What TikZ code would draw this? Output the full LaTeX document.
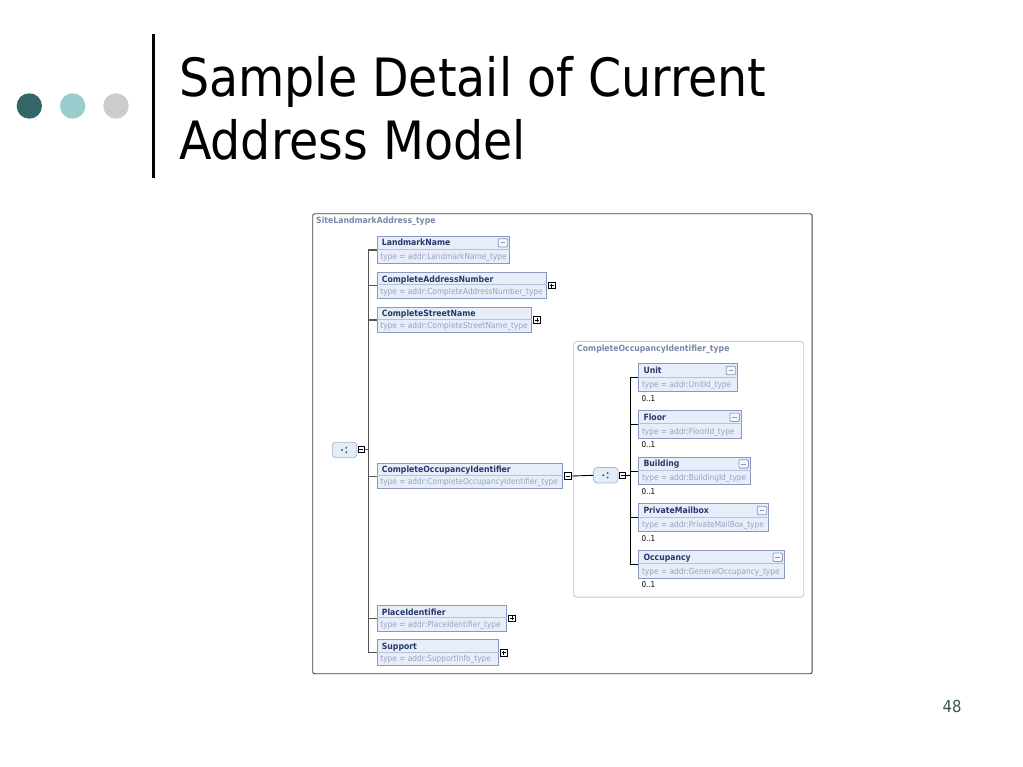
\documentclass[tikz,border=0pt]{standalone}
\usepackage{fontspec}
\setmainfont{DejaVu Sans Condensed}
\definecolor{dotA}{HTML}{336666}
\definecolor{dotB}{HTML}{99CCCC}
\definecolor{dotC}{HTML}{CCCCCC}
\definecolor{boxfill}{HTML}{E8EEF9}
\definecolor{boxline}{HTML}{8A97BE}
\definecolor{nametext}{HTML}{283868}
\definecolor{typetext}{HTML}{98A2C0}
\definecolor{frametitle}{HTML}{7C88A8}
\definecolor{outerline}{HTML}{404040}
\definecolor{innerline}{HTML}{C8C8C8}
\definecolor{seqfill}{HTML}{E3EDF8}
\definecolor{seqline}{HTML}{A9B9D2}
\definecolor{seqdot}{HTML}{4A5A80}
\definecolor{treegray}{HTML}{555555}
\definecolor{pagenum}{HTML}{3C5454}
\tikzset{
  elembox/.style={draw=boxline, line width=1.1pt, fill=boxfill, inner sep=0pt, rectangle},
  nametxt/.style={font=\fontsize{8.6}{10}\selectfont\bfseries, text=nametext, inner sep=0pt},
  typetxt/.style={font=\fontsize{8.25}{10}\selectfont, text=typetext, inner sep=0pt},
  occtxt/.style={font=\fontsize{8}{10}\selectfont, text=black, inner sep=0pt},
  ftitle/.style={font=\fontsize{8.6}{10}\selectfont\bfseries, text=frametitle, inner sep=0pt},
  hdricon/.style={draw=boxline, fill=white!55!boxfill, rounded corners=1pt, minimum width=9.5pt,
    minimum height=8.4pt, inner sep=0pt, line width=0.8pt,
    path picture={\draw[boxline, line width=0.8pt] ([xshift=2.5pt]path picture bounding box.west) -- ([xshift=-2.5pt]path picture bounding box.east);}},
  pmbox/.style={draw=black, fill=white, minimum size=6.6pt, inner sep=0pt, line width=0.7pt},
  pmminus/.style={pmbox, path picture={\draw[line width=0.7pt] ([xshift=1.3pt]path picture bounding box.west) -- ([xshift=-1.3pt]path picture bounding box.east);}},
  pmplus/.style={pmbox, path picture={\draw[line width=0.7pt] ([xshift=1.3pt]path picture bounding box.west) -- ([xshift=-1.3pt]path picture bounding box.east);
     \draw[line width=0.7pt] ([yshift=-1.3pt]path picture bounding box.north) -- ([yshift=1.3pt]path picture bounding box.south);}},
  seqnode/.style={draw=seqline, fill=seqfill, rounded corners=3.5pt, minimum width=24.5pt,
    minimum height=15.5pt, inner sep=0pt, line width=0.8pt,
    path picture={\fill[seqdot] ([xshift=-2.6pt]path picture bounding box.center) circle (1.1pt);
      \fill[seqdot] ([xshift=1.8pt,yshift=2.2pt]path picture bounding box.center) circle (1.1pt);
      \fill[seqdot] ([xshift=1.8pt,yshift=-2.2pt]path picture bounding box.center) circle (1.1pt);}},
  treeline/.style={draw=treegray, line width=1.1pt},
  innertree/.style={draw=black, line width=0.9pt},
  dot/.style={circle, inner sep=0pt, minimum size=25.4pt},
}
% #1 id, #2 x, #3 y, #4 w, #5 h, #6 name, #7 type
\newcommand{\xelem}[7]{%
  \node[elembox, minimum width=#4pt, minimum height=#5pt, anchor=north west] (#1) at (#2,#3) {};
  \draw[boxline!60, line width=0.6pt] ([yshift=-#5pt*0.49]#1.north west) -- ([yshift=-#5pt*0.49]#1.north east);
  \node[nametxt, anchor=base west] (#1-n) at ([xshift=5pt,yshift=-10pt]#1.north west) {#6};
  \node[typetxt, anchor=base west] (#1-t) at ([xshift=3.5pt,yshift=4.6pt]#1.south west) {#7};
}
\newcommand{\hdrminus}[1]{\node[hdricon, anchor=north east] (#1-h) at ([xshift=-2.3pt,yshift=-2.6pt]#1.north east) {};}
\newcommand{\pmicon}[2]{\node[#2, anchor=west] (#1-pm) at ([xshift=0.8pt]#1.east) {};}
\newcommand{\occlabel}[1]{\node[occtxt, anchor=base west] (#1-o) at ([xshift=3pt,yshift=-9pt]#1.south west) {0..1};}
\begin{document}
\begin{tikzpicture}[x=1pt,y=-1pt]
\useasboundingbox (0,0) rectangle (1023,767);
\fill[white] (0,0) rectangle (1023,767);

% decoration
\node[dot, fill=dotA] (d1) at (29.3,106) {};
\node[dot, fill=dotB] (d2) at (72.7,106) {};
\node[dot, fill=dotC] (d3) at (116,106) {};
\draw[line width=3.3pt] (153.3,34) -- (153.3,178);
\node[anchor=base west, inner sep=0pt, font=\fontsize{52.8}{63}\selectfont] (title1) at (179,97) {Sample Detail of Current};
\node[anchor=base west, inner sep=0pt, font=\fontsize{52.8}{63}\selectfont] (title2) at (179,160) {Address Model};
\node[inner sep=0pt, font=\fontsize{16.5}{20}\selectfont, text=pagenum] (pg) at (952,706) {48};

% outer frame
\node[draw=outerline, fill=white, line width=0.9pt, rounded corners=2pt, minimum width=499.4pt,
  minimum height=460pt, anchor=north west, inner sep=0pt] (outer) at (312.3,213.3) {};
\node[ftitle, anchor=base west] (outer-t) at (316,223.7) {SiteLandmarkAddress\_type};

% inner frame
\node[draw=innerline, fill=white, line width=0.9pt, rounded corners=3pt, minimum width=230pt,
  minimum height=255.7pt, anchor=north west, inner sep=0pt] (inner) at (573.3,341) {};
\node[ftitle, anchor=base west] (inner-t) at (577,351.5) {CompleteOccupancyIdentifier\_type};

% main elements
\xelem{lm}{376.7}{235.7}{132.6}{27.6}{LandmarkName}{type = addr:LandmarkName\_type}
\hdrminus{lm}
\xelem{can}{376.7}{272.3}{169.3}{25.4}{CompleteAddressNumber}{type = addr:CompleteAddressNumber\_type}
\pmicon{can}{pmplus}
\xelem{csn}{376.7}{306.7}{154.6}{25.6}{CompleteStreetName}{type = addr:CompleteStreetName\_type}
\pmicon{csn}{pmplus}
\xelem{coi}{376.7}{462.7}{185.3}{25.6}{CompleteOccupancyIdentifier}{type = addr:CompleteOccupancyIdentifier\_type}
\pmicon{coi}{pmminus}
\xelem{pid}{376.7}{605}{129.6}{25.7}{PlaceIdentifier}{type = addr:PlaceIdentifier\_type}
\pmicon{pid}{pmplus}
\xelem{sup}{376.7}{639.3}{121.3}{25.7}{Support}{type = addr:SupportInfo\_type}
\pmicon{sup}{pmplus}

% main tree
\coordinate (spA) at (368.3,0);
\node[seqnode] (seq1) at (344.5,450) {};
\node[pmminus] (seq1-pm) at (361.3,449.5) {};
\draw[treeline] (lm.west -| spA) -- (sup.west -| spA);
\foreach \e in {lm,can,csn,coi,pid,sup} { \draw[treeline] (\e.west) -- (\e.west -| spA); }
\draw[treeline] (seq1-pm.east) -- (seq1-pm.east -| spA);

% inner elements
\xelem{unit}{638.3}{363.3}{99}{28}{Unit}{type = addr:UnitId\_type}
\hdrminus{unit}\occlabel{unit}
\xelem{floor}{638.3}{410}{102.7}{27.7}{Floor}{type = addr:FloorId\_type}
\hdrminus{floor}\occlabel{floor}
\xelem{bld}{638.3}{456.7}{111.7}{27.6}{Building}{type = addr:BuildingId\_type}
\hdrminus{bld}\occlabel{bld}
\xelem{pmb}{638.3}{503.3}{130}{27.7}{PrivateMailbox}{type = addr:PrivateMailBox\_type}
\hdrminus{pmb}\occlabel{pmb}
\xelem{occ}{638.3}{550}{145.7}{27.7}{Occupancy}{type = addr:GeneralOccupancy\_type}
\hdrminus{occ}\occlabel{occ}

% inner tree
\coordinate (spB) at (630,0);
\node[seqnode] (seq2) at (605.8,475.3) {};
\node[pmminus] (seq2-pm) at (622.5,475.3) {};
\draw[innertree] (unit.west -| spB) -- (occ.west -| spB);
\foreach \e in {unit,floor,bld,pmb,occ} { \draw[innertree] (\e.west) -- (\e.west -| spB); }
\draw[innertree] (seq2-pm.east) -- (seq2-pm.east -| spB);
\draw[innertree] (coi-pm.east) -- (seq2.west);
\end{tikzpicture}
\end{document}
